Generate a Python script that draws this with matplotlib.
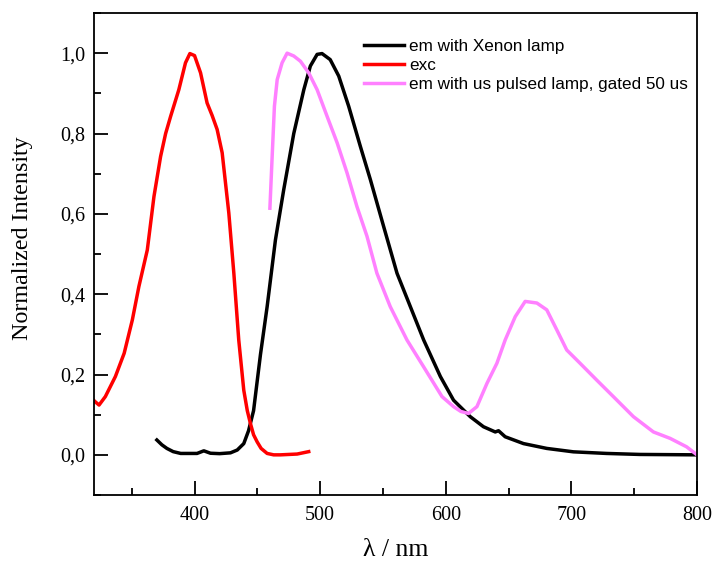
import numpy as np
import matplotlib.pyplot as plt
from matplotlib.ticker import MultipleLocator, FuncFormatter

# excitation spectrum (red)
exc_x = [320, 321, 324, 329, 337, 344, 350.5, 355.7, 362.4, 367.7, 373, 377, 381, 387.5, 392.8, 396.3, 400,
         404.8, 410, 414, 418, 422, 427.3, 431.3, 435.2, 439.2, 442, 444.5, 447, 449.9, 453, 457.8, 463, 468.4, 481.7, 490.9]
exc_y = [0.135, 0.132, 0.124, 0.145, 0.195, 0.253, 0.336, 0.419, 0.51, 0.643, 0.743, 0.80, 0.843, 0.909, 0.976, 0.999, 0.994,
         0.951, 0.876, 0.845, 0.81, 0.752, 0.602, 0.452, 0.286, 0.161, 0.11, 0.078, 0.05, 0.032, 0.016, 0.0035, 0.0, 0.0, 0.002, 0.008]

# emission with Xenon lamp (black)
xe_x = [370, 374, 378, 383, 389, 402, 407.4, 412.7, 420, 428.6, 434, 439.2, 443, 447, 452.5, 457.8, 464.4, 471, 479, 487,
        492.2, 497.6, 501.5, 508, 514.8, 522.7, 532, 540, 550.5, 561.2, 571.8, 582.4, 595.7, 606.2, 619.5, 630, 639.4,
        642, 647.3, 661.9, 680.4, 701.6, 728, 754.6, 800]
xe_y = [0.037, 0.025, 0.016, 0.008, 0.0035, 0.0035, 0.01, 0.004, 0.003, 0.005, 0.012, 0.028, 0.06, 0.11, 0.25, 0.369,
        0.535, 0.66, 0.80, 0.909, 0.968, 0.997, 0.999, 0.984, 0.943, 0.868, 0.768, 0.685, 0.569, 0.452, 0.369, 0.286,
        0.195, 0.136, 0.095, 0.070, 0.057, 0.06, 0.045, 0.028, 0.016, 0.0075, 0.0035, 0.001, 0.0]

# emission with us pulsed lamp, gated 50 us (pink)
pl_x = [460, 461.8, 463.6, 465.8, 469.7, 473.7, 479, 484.3, 490.9, 497.6, 505.5, 513.5, 521.4, 529.3, 537.3, 545.2,
        555.8, 569.1, 582.4, 597, 606.2, 612, 618.1, 624.8, 632.8, 640.7, 647.3, 655.3, 663.2, 672.5, 680.4, 688.4, 696.3,
        706.9, 720.2, 733.4, 749.4, 765.3, 778.6, 791.7, 800]
pl_y = [0.614, 0.743, 0.868, 0.934, 0.976, 1.0, 0.993, 0.98, 0.951, 0.909, 0.843, 0.777, 0.702, 0.618, 0.544, 0.452,
        0.369, 0.286, 0.219, 0.145, 0.12, 0.108, 0.103, 0.12, 0.178, 0.228, 0.286, 0.344, 0.382, 0.378, 0.361, 0.311, 0.261,
        0.228, 0.186, 0.145, 0.095, 0.057, 0.041, 0.02, 0.0]

fig = plt.figure(figsize=(7.14, 5.68), dpi=100)
ax = fig.add_axes([0.1317, 0.1285, 0.8445, 0.8486])

ax.plot(xe_x, xe_y, color='black', lw=2.5, label='em with Xenon lamp')
ax.plot(exc_x, exc_y, color='#ff0000', lw=2.5, label='exc')
ax.plot(pl_x, pl_y, color='#ff80ff', lw=2.5, label='em with us pulsed lamp, gated 50 us')

ax.set_xlim(320, 800)
ax.set_ylim(-0.1, 1.1)
ax.xaxis.set_major_locator(MultipleLocator(100))
ax.xaxis.set_minor_locator(MultipleLocator(50))
ax.yaxis.set_major_locator(MultipleLocator(0.2))
ax.yaxis.set_minor_locator(MultipleLocator(0.1))
ax.yaxis.set_major_formatter(FuncFormatter(lambda v, p: f'{v:.1f}'.replace('.', ',')))
ax.tick_params(which='both', direction='in', top=False, right=False, width=1.3)
ax.tick_params(which='major', length=10)
ax.tick_params(which='minor', length=5)
for lab in ax.get_xticklabels() + ax.get_yticklabels():
    lab.set_fontfamily('Liberation Serif')
    lab.set_fontsize(14.5)
ax.tick_params(axis='x', pad=8)
ax.tick_params(axis='y', pad=6)
for s in ax.spines.values():
    s.set_linewidth(1.3)

ax.set_xlabel('λ / nm', fontfamily='Liberation Serif', fontsize=18.5, labelpad=10)
ax.set_ylabel('Normalized Intensity', fontfamily='Liberation Serif', fontsize=17.3)
ax.yaxis.set_label_coords(-0.101, 0.533)

ax.legend(loc='upper left', bbox_to_anchor=(0.425, 0.975), frameon=False,
          prop={'family': 'Liberation Sans', 'size': 12.3}, handlelength=2.35,
          handletextpad=0.3, labelspacing=0.25, borderpad=0.3)

fig.savefig('out.png', dpi=100)
